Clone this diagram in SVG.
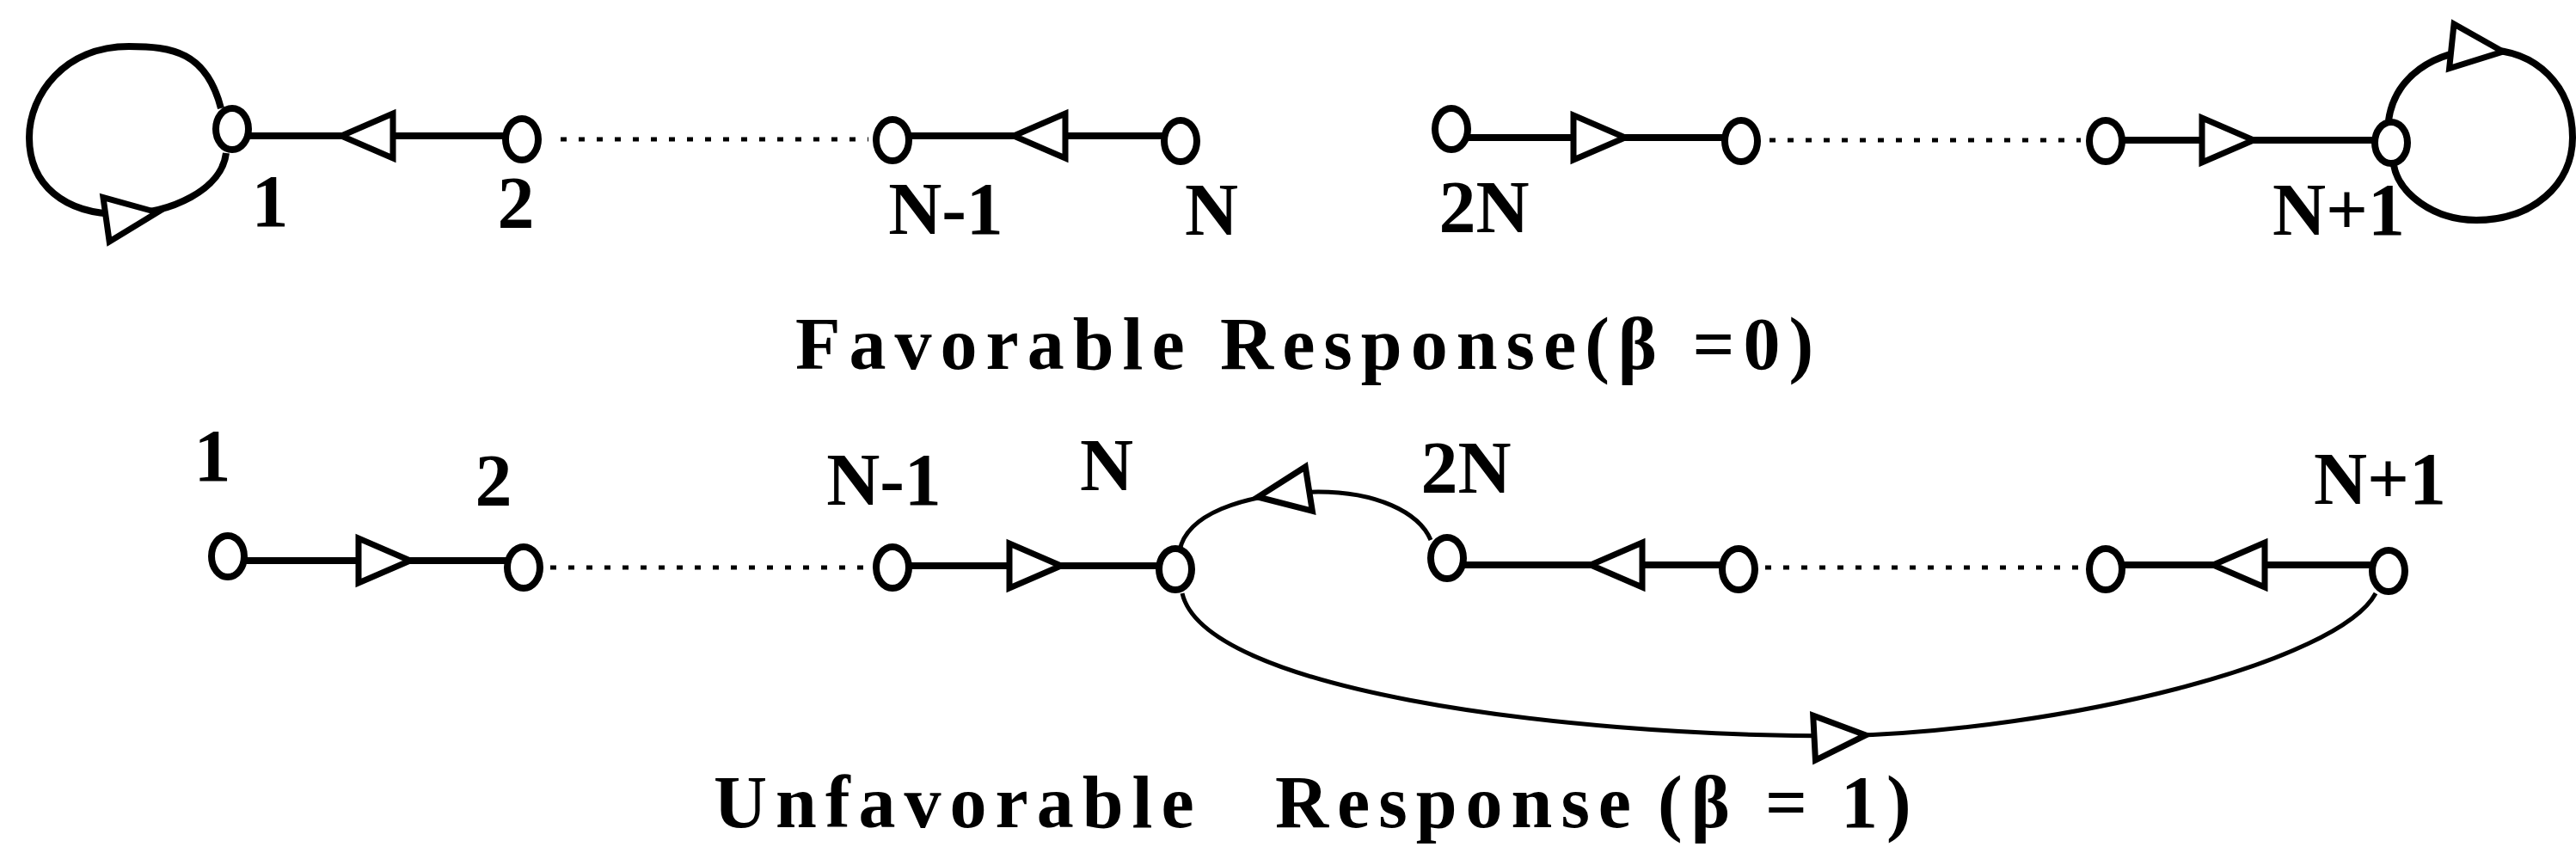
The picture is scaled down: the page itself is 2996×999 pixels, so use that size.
<svg xmlns="http://www.w3.org/2000/svg" xmlns:xlink="http://www.w3.org/1999/xlink" width="2996" height="999" viewBox="0 0 2996 999">
<style>
.node{fill:#fff;stroke:#000;stroke-width:8}
.edge{stroke:#000;stroke-width:8;fill:none}
.loop{stroke:#000;stroke-width:8;fill:none}
.curve{stroke:#000;stroke-width:5;fill:none}
.dots{stroke:#000;stroke-width:5;stroke-dasharray:7 14;fill:none}
.arr{fill:#fff;stroke:#000;stroke-width:7;stroke-linejoin:miter}
.lbl{font-family:"Liberation Serif","Times New Roman",serif;font-weight:bold;font-size:86px;fill:#000;text-anchor:middle}
.title{font-family:"Liberation Serif","Times New Roman",serif;font-weight:bold;font-size:86px;fill:#000;letter-spacing:10px}
</style>
<defs>
<path id="ah" class="arr" d="M0,0 L-60,-26 L-60,26 Z"/>
</defs>
<rect width="2996" height="999" fill="#fff"/>
<g id="connectors">
<path class="edge" d="M270,158 H607"/>
<path class="edge" d="M1038,158 H1373"/>
<path class="edge" d="M1688,160 H2025"/>
<path class="edge" d="M2449,163 H2781"/>
<path class="dots" d="M652,162 H1010"/>
<path class="dots" d="M2058,163 H2420"/>
<path class="loop" d="M257,126 C240,60 200,54 150,54 C75,54 34,110 34,160 C34,215 75,249 140,249 C200,249 258,220 263,178"/>
<path class="loop" d="M2778,140 C2785,90 2830,58 2890,58 C2950,58 2992,100 2992,160 C2992,215 2945,256 2880,256 C2830,256 2790,225 2784,192"/>
<use xlink:href="#ah" transform="translate(397,158) rotate(180)"/>
<use xlink:href="#ah" transform="translate(1179,158) rotate(180)"/>
<use xlink:href="#ah" transform="translate(1890,160)"/>
<use xlink:href="#ah" transform="translate(2621,163)"/>
<use xlink:href="#ah" transform="translate(183,247) rotate(-8)"/>
<use xlink:href="#ah" transform="translate(2911,60) rotate(6)"/>
<path class="edge" d="M265,652 H609"/>
<path class="edge" d="M1038,658 H1367"/>
<path class="edge" d="M1683,657 H2022"/>
<path class="edge" d="M2449,657 H2778"/>
<path class="dots" d="M640,660 H1010"/>
<path class="dots" d="M2053,660 H2420"/>
<path class="curve" d="M1372,640 C1380,600 1440,574 1533,572 C1600,572 1650,595 1664,628"/>
<path class="curve" d="M1375,690 C1400,800 1800,856 2140,856 C2400,850 2720,770 2763,690"/>
<use xlink:href="#ah" transform="translate(477,652)"/>
<use xlink:href="#ah" transform="translate(1234,658)"/>
<use xlink:href="#ah" transform="translate(1850,657) rotate(180)"/>
<use xlink:href="#ah" transform="translate(2574,657) rotate(180)"/>
<use xlink:href="#ah" transform="translate(1463,578) rotate(171)"/>
<use xlink:href="#ah" transform="translate(2170,855) rotate(-3)"/>
</g>
<g id="top-1"><ellipse class="node" cx="270" cy="150" rx="19" ry="24"/><text class="lbl" x="314" y="263">1</text></g>
<g id="top-2"><ellipse class="node" cx="607" cy="162" rx="19" ry="24"/><text class="lbl" x="600" y="265">2</text></g>
<g id="top-N-1"><ellipse class="node" cx="1038" cy="163" rx="19" ry="24"/><text class="lbl" x="1100" y="272">N-1</text></g>
<g id="top-N"><ellipse class="node" cx="1373" cy="164" rx="19" ry="24"/><text class="lbl" x="1409" y="273">N</text></g>
<g id="top-2N"><ellipse class="node" cx="1688" cy="150" rx="19" ry="24"/><text class="lbl" x="1726" y="270">2N</text></g>
<g id="top-a"><ellipse class="node" cx="2025" cy="164" rx="19" ry="24"/></g>
<g id="top-b"><ellipse class="node" cx="2449" cy="164" rx="19" ry="24"/></g>
<g id="top-N+1"><ellipse class="node" cx="2781" cy="166" rx="19" ry="24"/><text class="lbl" x="2720" y="273">N+1</text></g>
<g id="title-favorable"><text class="title" x="925" y="429">Favorable Response(β =0)</text></g>
<g id="bot-1"><ellipse class="node" cx="265" cy="647" rx="19" ry="24"/><text class="lbl" x="247" y="559">1</text></g>
<g id="bot-2"><ellipse class="node" cx="609" cy="660" rx="19" ry="24"/><text class="lbl" x="574" y="588">2</text></g>
<g id="bot-N-1"><ellipse class="node" cx="1038" cy="660" rx="19" ry="24"/><text class="lbl" x="1028" y="587">N-1</text></g>
<g id="bot-N"><ellipse class="node" cx="1367" cy="662" rx="19" ry="24"/><text class="lbl" x="1287" y="570">N</text></g>
<g id="bot-2N"><ellipse class="node" cx="1683" cy="649" rx="19" ry="24"/><text class="lbl" x="1705" y="573">2N</text></g>
<g id="bot-a"><ellipse class="node" cx="2022" cy="662" rx="19" ry="24"/></g>
<g id="bot-b"><ellipse class="node" cx="2449" cy="662" rx="19" ry="24"/></g>
<g id="bot-N+1"><ellipse class="node" cx="2778" cy="664" rx="19" ry="24"/><text class="lbl" x="2768" y="586">N+1</text></g>
<g id="title-unfavorable"><text class="title" y="962"><tspan x="830">Unfavorable</tspan> <tspan x="1483">Response</tspan> <tspan x="1928">(β</tspan> <tspan x="2053">=</tspan> <tspan x="2141">1)</tspan></text></g>
</svg>
